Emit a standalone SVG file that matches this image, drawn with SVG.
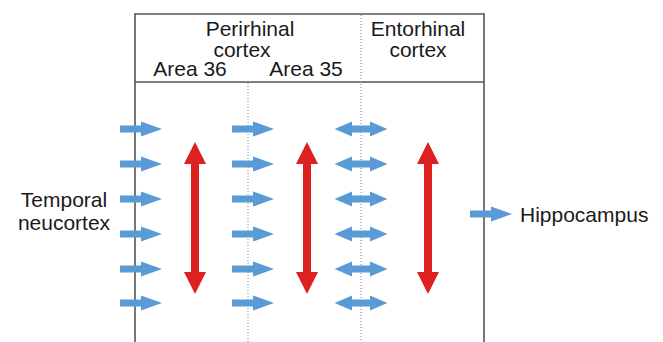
<svg xmlns="http://www.w3.org/2000/svg" width="663" height="342" viewBox="0 0 663 342">
  <style>
    text { font-family: "Liberation Sans", Arial, Helvetica, sans-serif; font-size: 21px; fill: #1a1a1a; text-anchor: middle; }
    .frame { stroke: #555; stroke-width: 1.6; fill: none; }
    .divider { stroke: #9a9a9a; stroke-width: 1.2; stroke-dasharray: 1 2; fill: none; }
    .flow { fill: #5b9bd5; }
    .loop { fill: #dd2020; }
  </style>
  <defs>
    <!-- one-way flow arrow, tail at origin, pointing right -->
    <path id="right-arrow" d="M0,-3.5 H21 V-7.5 L42,0 L21,7.5 V3.5 H0 Z"/>
    <!-- two-way flow arrow, centred on origin -->
    <path id="both-arrow" d="M-26.5,0 L-9,-7.5 V-3.5 H9 V-7.5 L26.5,0 L9,7.5 V3.5 H-9 V7.5 Z"/>
    <!-- vertical two-way arrow for intra-area connections -->
    <path id="vert-arrow" d="M0,142 L11,164 H4 V272 H11 L0,294 L-11,272 H-4 V164 H-11 Z"/>
  </defs>

  <!-- region frame and boundaries -->
  <g id="frame">
    <line class="frame" x1="135" y1="14" x2="484" y2="14"/>
    <line class="frame" x1="135" y1="82" x2="484" y2="82" stroke-width="2"/>
    <line class="frame" x1="135" y1="13.2" x2="135" y2="342"/>
    <line class="frame" x1="484" y1="13.2" x2="484" y2="342"/>
    <line class="divider" x1="361" y1="15" x2="361" y2="342"/>
    <line class="divider" x1="248" y1="83" x2="248" y2="342"/>
  </g>

  <!-- region headings -->
  <g id="perirhinal">
    <text x="250" y="36">Perirhinal</text>
    <text x="242" y="57">cortex</text>
  </g>
  <g id="area36">
    <text x="190" y="76">Area 36</text>
  </g>
  <g id="area35">
    <text x="306" y="76">Area 35</text>
  </g>
  <g id="entorhinal">
    <text x="418" y="36">Entorhinal</text>
    <text x="418" y="57">cortex</text>
  </g>

  <!-- source and target -->
  <g id="temporal-neocortex">
    <text x="64" y="207">Temporal</text>
    <text x="64" y="230">neucortex</text>
  </g>
  <g id="hippocampus">
    <text x="520" y="222" style="text-anchor:start">Hippocampus</text>
  </g>

  <!-- connectors -->
  <g id="connectors">
    <g class="flow">
      <use href="#right-arrow" x="120" y="129"/>
      <use href="#right-arrow" x="120" y="164"/>
      <use href="#right-arrow" x="120" y="199"/>
      <use href="#right-arrow" x="120" y="234"/>
      <use href="#right-arrow" x="120" y="269"/>
      <use href="#right-arrow" x="120" y="303"/>

      <use href="#right-arrow" x="232" y="129"/>
      <use href="#right-arrow" x="232" y="164"/>
      <use href="#right-arrow" x="232" y="199"/>
      <use href="#right-arrow" x="232" y="234"/>
      <use href="#right-arrow" x="232" y="269"/>
      <use href="#right-arrow" x="232" y="303"/>

      <use href="#both-arrow" x="361" y="129"/>
      <use href="#both-arrow" x="361" y="164"/>
      <use href="#both-arrow" x="361" y="199"/>
      <use href="#both-arrow" x="361" y="234"/>
      <use href="#both-arrow" x="361" y="269"/>
      <use href="#both-arrow" x="361" y="303"/>

      <use href="#right-arrow" x="470" y="214"/>
    </g>
    <g class="loop">
      <use href="#vert-arrow" x="195"/>
      <use href="#vert-arrow" x="307"/>
      <use href="#vert-arrow" x="428"/>
    </g>
  </g>
</svg>
